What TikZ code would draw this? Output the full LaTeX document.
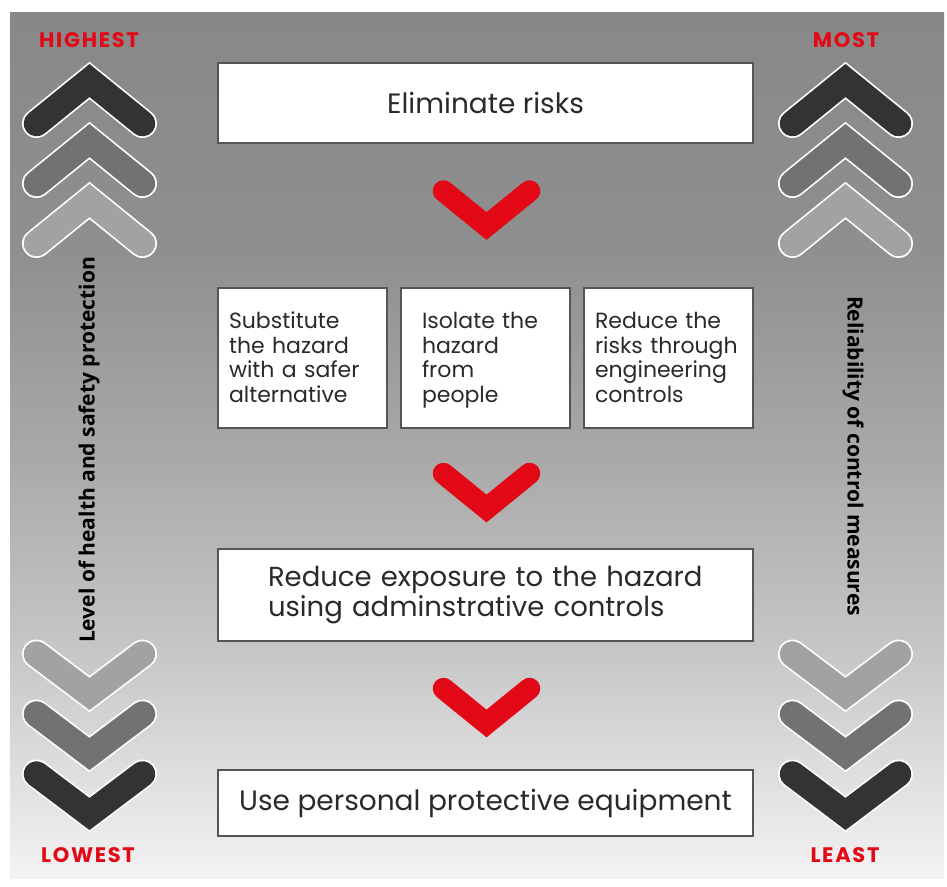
\documentclass[tikz,border=0pt]{standalone}
\usepackage{fontspec}
\setmainfont{Poppins}
\newfontfamily\sidefont{Open Sans}
\newfontfamily\lblfont[LetterSpace=8]{Poppins}
\definecolor{hred}{RGB}{226,8,22}
\definecolor{bgA}{HTML}{888888}
\definecolor{bgB}{HTML}{8F8F8F}
\definecolor{bgC}{HTML}{A8A8A8}
\definecolor{bgD}{HTML}{C6C6C6}
\definecolor{bgE}{HTML}{F3F3F3}
\definecolor{cdark}{HTML}{333333}
\definecolor{cmid}{HTML}{727272}
\definecolor{clight}{HTML}{A2A2A2}
\definecolor{boxline}{HTML}{555555}
\definecolor{txt}{HTML}{2A2A2A}
\pgfdeclareverticalshading{bgshade}{100bp}{color(0bp)=(bgE); color(25bp)=(bgE); color(38.2bp)=(bgD); color(49.7bp)=(bgC); color(61.3bp)=(bgB); color(75bp)=(bgA); color(100bp)=(bgA)}
\tikzset{
  box/.style={draw=boxline, line width=1.8pt, fill=white, inner sep=0pt, text=txt},
  smallbox/.style={box, minimum width=169pt, minimum height=140pt},
  smalltext/.style={align=left, inner sep=0pt, text=txt, font=\fontsize{22}{24.5}\selectfont},
  bigtext/.style={font=\fontsize{28}{28}\selectfont},
  lbl/.style={text=hred, font=\lblfont\bfseries\fontsize{21}{22}\selectfont},
  side/.style={font=\sidefont\bfseries\fontsize{21}{24}\selectfont, text=black},
  pics/upchev/.style={code={
    \draw[white, line width=29pt, line cap=round, line join=miter] (-53,21.5) -- (0,-21.5) -- (53,21.5);
    \draw[#1, line width=25.6pt, line cap=round, line join=miter] (-53,21.5) -- (0,-21.5) -- (53,21.5);
  }},
  pics/downchev/.style={code={
    \draw[white, line width=29pt, line cap=round, line join=miter] (-53,-20) -- (0,20) -- (53,-20);
    \draw[#1, line width=25.6pt, line cap=round, line join=miter] (-53,-20) -- (0,20) -- (53,-20);
  }},
  pics/redchev/.style={code={
    \draw[hred, line width=21.5pt, line cap=round, line join=miter] (-43,-17.5) -- (0,17.5) -- (43,-17.5);
  }}
}
\begin{document}
\begin{tikzpicture}[x=1pt, y=-1pt]
\useasboundingbox (0,0) rectangle (947,886);
\fill[white] (0,0) rectangle (947,886);
\shade[shading=bgshade] (10,12) rectangle (944,878);

% left and right chevrons
\pic at (89.5,102) {upchev=cdark};
\pic at (89.5,162) {upchev=cmid};
\pic at (89.5,222) {upchev=clight};
\pic at (845.5,102) {upchev=cdark};
\pic at (845.5,162) {upchev=cmid};
\pic at (845.5,222) {upchev=clight};
\pic at (89.5,674) {downchev=clight};
\pic at (89.5,734) {downchev=cmid};
\pic at (89.5,794) {downchev=cdark};
\pic at (845.5,674) {downchev=clight};
\pic at (845.5,734) {downchev=cmid};
\pic at (845.5,794) {downchev=cdark};

% red end labels
\node[lbl] (hi) at (89,40) {HIGHEST};
\node[lbl] (most) at (846,40) {MOST};
\node[lbl] (lo) at (88,855) {LOWEST};
\node[lbl] (least) at (845,855) {LEAST};

% side labels
\node[side, rotate=90] (lvl) at (89,450) {Level of health and safety protection};
\node[side, rotate=-90] (rel) at (853,456) {Reliability of control measures};

% boxes
\node[box, bigtext, minimum width=535pt, minimum height=80pt] (elim) at (485.5,103) {Eliminate risks};

\node[smallbox] (sub) at (302.5,358) {};
\node[smallbox] (iso) at (485.5,358) {};
\node[smallbox] (eng) at (668.5,358) {};
\node[smalltext, text width=147pt] (subt) at ([yshift=-3pt]sub.center) {Substitute\\the hazard\\with a safer\\alternative\strut};
\node[smalltext, text width=127pt] (isot) at ([yshift=-3pt]iso.center) {Isolate the\\hazard\\from\\people\strut};
\node[smalltext, text width=147pt] (engt) at ([yshift=-3pt]eng.center) {Reduce the\\risks through\\engineering\\controls\strut};

\node[box, font=\fontsize{27.5}{28}\selectfont, minimum width=535pt, minimum height=92pt, text width=435pt, align=left] (adm) at (485.5,595) {\mbox{Reduce exposure to the hazard}\\\mbox{using adminstrative controls}};
\node[box, bigtext, minimum width=535pt, minimum height=66pt] (ppe) at (485.5,803) {Use personal protective equipment};

% red chevrons between levels
\pic at (486.5,208.5) {redchev};
\pic at (486.5,491) {redchev};
\pic at (486.5,706) {redchev};
\end{tikzpicture}
\end{document}
